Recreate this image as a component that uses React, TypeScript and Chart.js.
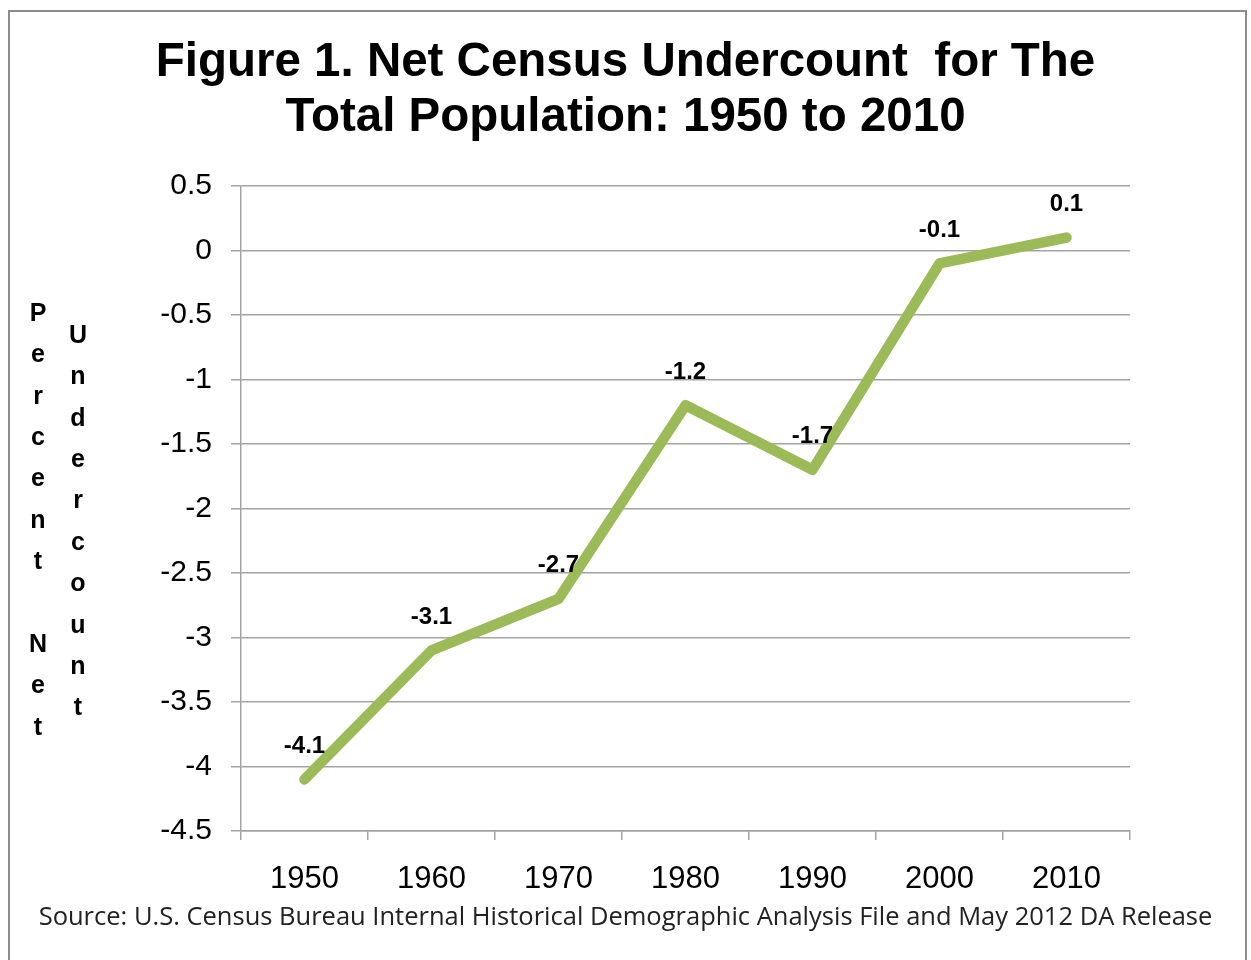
import React, { useEffect, useRef } from "react";
import { Chart, registerables } from "chart.js";

Chart.register(...registerables);

const titleLines = ["Figure 1. Net Census Undercount  for The", "Total Population: 1950 to 2010"];
const sourceText = "Source: U.S. Census Bureau Internal Historical Demographic Analysis File and May 2012 DA Release";
const yAxisColumns = ["Percent Net", "Undercount"];
const years = ["1950", "1960", "1970", "1980", "1990", "2000", "2010"];
const undercount = [-4.1, -3.1, -2.7, -1.2, -1.7, -0.1, 0.1];
const yMin = -4.5;
const yMax = 0.5;
const yStep = 0.5;

const GRID = "#a3a3a3";
const ARIAL = "'Liberation Sans', Arial, sans-serif";

const dataLabelPlugin = {
  id: "dataLabels",
  afterDatasetsDraw(chart: any) {
    const ctx = chart.ctx;
    const meta = chart.getDatasetMeta(0);
    ctx.save();
    ctx.font = `bold 24px ${ARIAL}`;
    ctx.fillStyle = "#000";
    ctx.textAlign = "center";
    ctx.textBaseline = "middle";
    meta.data.forEach((pt: any, i: number) => {
      const v = chart.data.datasets[0].data[i];
      ctx.fillText(String(v), pt.x, pt.y - 33);
    });
    ctx.restore();
  },
};

const stackedAxisTitlePlugin = {
  id: "stackedAxisTitle",
  afterDraw(chart: any) {
    const ctx = chart.ctx;
    ctx.save();
    ctx.font = `bold 25px ${ARIAL}`;
    ctx.fillStyle = "#000";
    ctx.textAlign = "center";
    ctx.textBaseline = "middle";
    const cols = [
      { x: 38, y0: 314 },
      { x: 78, y0: 336 },
    ];
    yAxisColumns.forEach((word, c) => {
      const chars = Array.from(word);
      chars.forEach((ch, i) => {
        if (ch !== " ") ctx.fillText(ch, cols[c].x, cols[c].y0 + i * 41.4);
      });
    });
    ctx.restore();
  },
};

export default function App() {
  const ref = useRef<HTMLCanvasElement>(null);

  useEffect(() => {
    if (!ref.current) return;
    const chart = new Chart(ref.current, {
      type: "line",
      data: {
        labels: years,
        datasets: [
          {
            data: undercount,
            borderColor: "#9BBB59",
            backgroundColor: "#9BBB59",
            borderWidth: 10.5,
            borderCapStyle: "round",
            borderJoinStyle: "round",
            pointRadius: 0,
            pointHoverRadius: 0,
            tension: 0,
            fill: false,
          },
        ],
      },
      options: {
        responsive: false,
        animation: false,
        devicePixelRatio: 1,
        layout: { padding: { left: 0, right: 0, top: 0, bottom: 0 } },
        plugins: {
          legend: { display: false },
          tooltip: { enabled: false },
          title: {
            display: true,
            text: titleLines,
            color: "#000",
            font: { family: ARIAL, size: 47.5, weight: "bold", lineHeight: 1.16 },
            padding: { top: 35, bottom: 40.8 },
          },
          subtitle: {
            display: true,
            position: "bottom",
            text: sourceText,
            color: "#222",
            font: { family: "'Open Sans', 'Noto Sans', sans-serif", size: 25.5, weight: "normal", lineHeight: 1.13 },
            padding: { top: 0, bottom: 28 },
          },
        },
        scales: {
          x: {
            type: "category",
            offset: true,
            grid: {
              offset: true,
              drawOnChartArea: false,
              drawTicks: true,
              tickLength: 9,
              color: GRID,
              lineWidth: 1.5,
            },
            border: { display: true, color: GRID, width: 1.5 },
            ticks: {
              color: "#000",
              font: { family: ARIAL, size: 31 },
              padding: 21,
              maxRotation: 0,
              autoSkip: false,
            },
            afterFit(s: any) {
              s.height = 72.2;
            },
          },
          y: {
            min: yMin,
            max: yMax,
            grid: {
              color: GRID,
              lineWidth: 1.5,
              drawTicks: true,
              tickLength: 10,
            },
            border: { display: true, color: GRID, width: 1.5 },
            ticks: {
              stepSize: yStep,
              color: "#000",
              font: { family: ARIAL, size: 30 },
              padding: 19,
              callback: (v: any) => String(Math.round(Number(v) * 10) / 10),
            },
            afterFit(s: any) {
              s.width = 241;
            },
          },
          rightSpace: {
            type: "linear",
            position: "right",
            display: true,
            grid: { display: false, drawTicks: false },
            border: { display: false },
            ticks: { display: false },
            afterFit(s: any) {
              s.width = 121;
            },
          },
        },
      },
      plugins: [dataLabelPlugin, stackedAxisTitlePlugin],
    } as any);
    return () => chart.destroy();
  }, []);

  return (
    <>
      <div
        style={{
          position: "absolute",
          left: 8,
          top: 10,
          width: 1239,
          height: 950,
          boxSizing: "border-box",
          border: "2px solid #8c8c8c",
          borderBottom: "none",
          background: "#fff",
        }}
      />
      <canvas
        ref={ref}
        width={1251}
        height={960}
        style={{ position: "absolute", left: 0, top: 0, width: 1251, height: 960 }}
      />
    </>
  );
}
